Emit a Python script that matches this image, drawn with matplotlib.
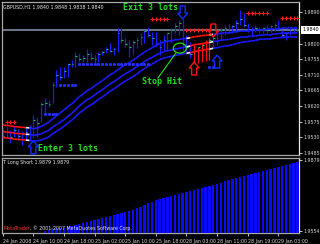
import matplotlib
matplotlib.use("Agg")
import matplotlib.pyplot as plt
from matplotlib.patches import Polygon, Ellipse
from matplotlib.lines import Line2D
from matplotlib.collections import LineCollection
from matplotlib.transforms import IdentityTransform, blended_transform_factory
import numpy as np

# ---------------- data ----------------
highs = [1.9557, 1.9560, 1.9551, 1.9563, 1.9554, 1.9548, 1.9557, 1.9566, 1.9595, 1.9589,
         1.9632, 1.9644, 1.9638, 1.9690, 1.9724, 1.9733, 1.9733, 1.9745, 1.9753, 1.9776,
         1.9774, 1.9768, 1.9785, 1.9776, 1.9768, 1.9776, 1.9779, 1.9791, 1.9802, 1.9791,
         1.9846, 1.9846, 1.9817, 1.9811, 1.9811, 1.9820, 1.9831, 1.9840, 1.9848, 1.9834,
         1.9834, 1.9811, 1.9825, 1.9831, 1.9846, 1.9860, 1.9869, 1.9871, 1.9825, 1.9805,
         1.9797, 1.9791, 1.9802, 1.9811, 1.9817, 1.9823, 1.9840, 1.9846, 1.9854, 1.9857,
         1.9854, 1.9869, 1.9898, 1.9889, 1.9860, 1.9848, 1.9854, 1.9848, 1.9848, 1.9854,
         1.9854, 1.9860, 1.9869, 1.9840, 1.9834, 1.9846, 1.9848, 1.9846]
lows = [1.9523, 1.9528, 1.9514, 1.9531, 1.9523, 1.9508, 1.9525, 1.9520, 1.9528, 1.9531,
        1.9574, 1.9600, 1.9618, 1.9629, 1.9675, 1.9696, 1.9701, 1.9704, 1.9733, 1.9733,
        1.9748, 1.9748, 1.9748, 1.9753, 1.9745, 1.9748, 1.9768, 1.9774, 1.9776, 1.9768,
        1.9776, 1.9802, 1.9791, 1.9762, 1.9768, 1.9788, 1.9797, 1.9802, 1.9820, 1.9797,
        1.9791, 1.9768, 1.9782, 1.9782, 1.9802, 1.9831, 1.9825, 1.9782, 1.9776, 1.9759,
        1.9748, 1.9745, 1.9748, 1.9750, 1.9753, 1.9788, 1.9797, 1.9811, 1.9825, 1.9831,
        1.9831, 1.9834, 1.9854, 1.9848, 1.9834, 1.9820, 1.9834, 1.9831, 1.9831, 1.9831,
        1.9834, 1.9837, 1.9840, 1.9820, 1.9811, 1.9825, 1.9834, 1.9834]
closes = [1.9535, 1.9545, 1.9530, 1.9550, 1.9535, 1.9540, 1.9545, 1.9560, 1.9580, 1.9570,
          1.9625, 1.9630, 1.9625, 1.9680, 1.9710, 1.9705, 1.9720, 1.9740, 1.9740, 1.9765,
          1.9755, 1.9760, 1.9770, 1.9760, 1.9755, 1.9770, 1.9775, 1.9785, 1.9780, 1.9785,
          1.9830, 1.9810, 1.9800, 1.9790, 1.9805, 1.9810, 1.9820, 1.9835, 1.9825, 1.9815,
          1.9800, 1.9790, 1.9810, 1.9830, 1.9840, 1.9850, 1.9860, 1.9790, 1.9790, 1.9770,
          1.9780, 1.9790, 1.9795, 1.9805, 1.9810, 1.9815, 1.9830, 1.9840, 1.9845, 1.9840,
          1.9850, 1.9860, 1.9870, 1.9855, 1.9840, 1.9840, 1.9845, 1.9840, 1.9845, 1.9840,
          1.9850, 1.9855, 1.9845, 1.9825, 1.9830, 1.9840, 1.9842, 1.9840]
red_bars = [50, 51, 52, 53, 54]

band_upper = [1.9566, 1.9564, 1.9563, 1.9561, 1.9560, 1.9559, 1.9558, 1.9557, 1.9555, 1.9557,
              1.9561, 1.9567, 1.9573, 1.9583, 1.9592, 1.9600, 1.9609, 1.9618, 1.9626, 1.9636,
              1.9647, 1.9655, 1.9664, 1.9670, 1.9678, 1.9686, 1.9693, 1.9701, 1.9710, 1.9716,
              1.9724, 1.9732, 1.9739, 1.9745, 1.9752, 1.9759, 1.9768, 1.9775, 1.9782, 1.9788,
              1.9795, 1.9801, 1.9804, 1.9807, 1.9808, 1.9811, 1.9812, 1.9814, 1.9815, 1.9817,
              1.9820, 1.9821, 1.9823, 1.9824, 1.9825, 1.9827, 1.9828, 1.9830, 1.9831, 1.9831,
              1.9833, 1.9834, 1.9836, 1.9837, 1.9837, 1.9838, 1.9838, 1.9840, 1.9840, 1.9841,
              1.9841, 1.9843, 1.9843, 1.9844, 1.9844, 1.9846, 1.9846, 1.9846]
band_middle = [1.9547, 1.9545, 1.9544, 1.9542, 1.9541, 1.9540, 1.9539, 1.9538, 1.9536, 1.9537,
               1.9540, 1.9545, 1.9550, 1.9559, 1.9566, 1.9573, 1.9581, 1.9590, 1.9599, 1.9609,
               1.9621, 1.9629, 1.9638, 1.9644, 1.9652, 1.9660, 1.9667, 1.9675, 1.9684, 1.9690,
               1.9698, 1.9706, 1.9713, 1.9719, 1.9726, 1.9733, 1.9741, 1.9748, 1.9755, 1.9760,
               1.9767, 1.9772, 1.9776, 1.9780, 1.9781, 1.9785, 1.9786, 1.9789, 1.9791, 1.9793,
               1.9797, 1.9798, 1.9800, 1.9802, 1.9803, 1.9806, 1.9807, 1.9810, 1.9811, 1.9812,
               1.9814, 1.9816, 1.9818, 1.9820, 1.9820, 1.9822, 1.9822, 1.9824, 1.9825, 1.9826,
               1.9826, 1.9828, 1.9829, 1.9830, 1.9830, 1.9832, 1.9832, 1.9832]
band_lower = [1.9530, 1.9528, 1.9527, 1.9525, 1.9524, 1.9523, 1.9522, 1.9521, 1.9519, 1.9520,
              1.9522, 1.9526, 1.9531, 1.9540, 1.9547, 1.9554, 1.9562, 1.9571, 1.9579, 1.9589,
              1.9600, 1.9608, 1.9617, 1.9623, 1.9631, 1.9639, 1.9646, 1.9654, 1.9663, 1.9669,
              1.9677, 1.9685, 1.9692, 1.9698, 1.9705, 1.9712, 1.9721, 1.9728, 1.9735, 1.9741,
              1.9748, 1.9754, 1.9758, 1.9761, 1.9763, 1.9766, 1.9768, 1.9770, 1.9772, 1.9774,
              1.9777, 1.9779, 1.9781, 1.9783, 1.9784, 1.9787, 1.9788, 1.9791, 1.9793, 1.9794,
              1.9797, 1.9800, 1.9803, 1.9805, 1.9806, 1.9808, 1.9809, 1.9812, 1.9812, 1.9814,
              1.9814, 1.9816, 1.9817, 1.9818, 1.9818, 1.9820, 1.9820, 1.9820]
# band state per bar: S = short (red), L = long (blue), X = switch (white)
band_state = list("SSSSSSSX" + "L" * 41 + "X" + "SSSSS" + "X" + "L" * 22)

long_stop_idx = [11, 12, 13, 14, 15, 16, 17, 18, 19, 20, 21, 22, 23, 24, 25, 26, 27, 28, 29,
                 30, 31, 32, 33, 34, 35, 36, 37, 38, 54, 55]
long_stop = [1.9597, 1.9597, 1.9597, 1.9597, 1.9681, 1.9681, 1.9681, 1.9681, 1.9681, 1.9741,
             1.9741, 1.9741, 1.9741, 1.9741, 1.9741, 1.9741, 1.9741, 1.9741, 1.9741, 1.9741,
             1.9741, 1.9741, 1.9741, 1.9741, 1.9741, 1.9741, 1.9741, 1.9741, 1.9733, 1.9733]
short_stop_idx = [1, 2, 3, 39, 40, 41, 42, 43, 48, 49, 50, 51, 52, 53, 54,
                  64, 65, 66, 67, 68, 69, 73, 74, 75, 76, 77]
short_stop = [1.9574, 1.9574, 1.9574, 1.9871, 1.9871, 1.9871, 1.9871, 1.9871,
              1.9840, 1.9840, 1.9840, 1.9840, 1.9840, 1.9840, 1.9840,
              1.9888, 1.9888, 1.9888, 1.9888, 1.9888, 1.9888, 1.9874, 1.9874, 1.9874, 1.9874, 1.9874]

trade_idx = [8, 47, 50, 55, 56]
trade_price = [1.9520, 1.9871, 1.9747, 1.9819, 1.9767]
trade_dir = ["up", "down", "up", "down", "up"]
trade_color = ["#1030ff", "#1030ff", "#ff1010", "#ff1010", "#1030ff"]
stop_hit_idx = 46
stop_hit_price = 1.9787
current_price = 1.9840

hist_idx = list(range(11, 78))
hist_vals = [1.9554, 1.9559, 1.9563, 1.9565, 1.9566, 1.9568, 1.9572, 1.9577, 1.9581, 1.9586,
             1.9591, 1.9595, 1.9600, 1.9604, 1.9609, 1.9614, 1.9618, 1.9623, 1.9627, 1.9632,
             1.9636, 1.9641, 1.9646, 1.9650, 1.9657, 1.9664, 1.9673, 1.9680, 1.9687, 1.9696,
             1.9701, 1.9705, 1.9710, 1.9714, 1.9719, 1.9723, 1.9728, 1.9733, 1.9737, 1.9742,
             1.9746, 1.9751, 1.9756, 1.9760, 1.9765, 1.9769, 1.9774, 1.9781, 1.9785, 1.9792,
             1.9797, 1.9801, 1.9806, 1.9810, 1.9815, 1.9820, 1.9824, 1.9829, 1.9833, 1.9838,
             1.9842, 1.9847, 1.9852, 1.9856, 1.9861, 1.9865, 1.9870]

price_ticks = [1.9485, 1.9530, 1.9575, 1.9620, 1.9665, 1.9710, 1.9755, 1.9800, 1.9890]
hist_ticks = [1.9554, 1.9879]
time_idx = [0, 8, 16, 24, 32, 40, 48, 56, 64, 72]
time_labels = ["24 Jan 2008", "24 Jan 10:00", "24 Jan 18:00", "25 Jan 02:00", "25 Jan 10:00",
               "25 Jan 18:00", "28 Jan 03:00", "28 Jan 11:00", "28 Jan 19:00", "29 Jan 03:00"]

# ---------------- figure ----------------
W, H = 320, 244
fig = plt.figure(figsize=(W / 100, H / 100), dpi=100, facecolor="black")


def frac(x0, y0, x1, y1):
    return [x0 / W, 1 - y1 / H, (x1 - x0) / W, (y1 - y0) / H]


small = 3.4
ax = fig.add_axes(frac(2, 2, 299, 155))
ax2 = fig.add_axes(frac(2, 158, 299, 233))
n = len(highs)
idx = np.arange(n)
for a in (ax, ax2):
    a.set_facecolor("black")
    a.set_xlim(-0.2, 77.4)
    for s in ("left", "top", "bottom"):
        a.spines[s].set_color("#a8a8a8")
        a.spines[s].set_linewidth(0.9)
    a.spines["right"].set_color("#e8e8e8")
    a.spines["right"].set_linewidth(0.9)
    a.yaxis.tick_right()
    a.tick_params(axis="y", length=2.5, width=0.6, color="#e0e0e0", labelsize=small,
                  labelcolor="#d8d8d8", pad=1.0)

ax.set_ylim(1.9479, 1.9920)
ax2.set_ylim(1.9543, 1.9888)

# bars
bar_colors = ["#ff1010" if i in red_bars else "#1a1aff" for i in idx]
ax.vlines(idx, lows, highs, colors=bar_colors, lw=0.9, zorder=3)
ax.hlines(closes, idx, idx + 0.45, colors="#20c060", lw=0.8, zorder=3)

# current price line
ax.axhline(current_price, color="#6a7888", lw=1.4, zorder=1)

# bands
state_col = {"S": "#ff1010", "L": "#1a1aff", "X": "#f0f0f0"}
for band in (band_upper, band_middle, band_lower):
    segs = [[(i - 1, band[i - 1]), (i, band[i])] for i in range(1, n)]
    cols = [state_col[band_state[i]] for i in range(1, n)]
    ax.add_collection(LineCollection(segs, colors=cols, linewidths=1.2, zorder=4))

# stops
ax.plot(long_stop_idx, long_stop, ls="none", marker="s", ms=1.1, color="#2030ff", zorder=4)
ax.plot(short_stop_idx, short_stop, ls="none", marker="+", ms=2.4, mew=0.8, color="#ff1818", zorder=4)

# ticks main
ax.set_yticks(price_ticks)
ax.set_yticklabels([f"{v:.4f}" for v in price_ticks])
ax.set_xticks([])

# price box
bt = blended_transform_factory(ax.transAxes, ax.transData)
ax.text(1.012, current_price, f"{current_price:.4f}", transform=bt, fontsize=small, color="black",
        va="center", ha="left", clip_on=False,
        bbox=dict(boxstyle="square,pad=0.3", fc="white", ec="none"))

# header texts
ax.text(0.004, 0.985, "GBPUSD,H1 1.9840 1.9848 1.9838 1.9840", transform=ax.transAxes,
        fontsize=small, color="#e8e8e8", va="top", ha="left")
green = "#22dd22"
mono = dict(family="DejaVu Sans Mono", weight="bold", fontsize=6.0, color=green)
ax.text(0.407, 0.967, "Exit 3 lots", transform=ax.transAxes, va="center", ha="left", **mono)
ax.text(0.121, 0.040, "Enter 3 lots", transform=ax.transAxes, va="center", ha="left", **mono)
ax.text(0.472, 0.483, "Stop Hit", transform=ax.transAxes, va="center", ha="left", **mono)

# hollow arrows (pixel sized)
for i, p, d, c in zip(trade_idx, trade_price, trade_dir, trade_color):
    x, y = ax.transData.transform((i, p))
    hw, sw, hh, L = 5, 2.5, 6, 13
    s = 1 if d == "down" else -1
    base = [(0, 0), (-hw, hh), (-sw, hh), (-sw, L), (sw, L), (sw, hh), (hw, hh)]
    verts = [(x + vx, y + s * vy) for vx, vy in base]
    ax.add_patch(Polygon(verts, closed=True, fill=False, edgecolor=c, lw=1.0,
                         transform=IdentityTransform(), clip_on=False, zorder=6))

# stop-hit circle and leader line
cx, cy = ax.transData.transform((stop_hit_idx, stop_hit_price))
ax.add_patch(Ellipse((cx + 1, cy), 13, 10, fill=False, edgecolor=green, lw=0.9,
                     transform=IdentityTransform(), zorder=6))
fig.add_artist(Line2D([cx - 3, cx - 21], [cy - 5, cy - 30], color=green, lw=0.8,
                      transform=IdentityTransform()))

# lower panel
ax2.bar(hist_idx, np.array(hist_vals) - 1.9543, bottom=1.9543, width=0.62, color="#0a0aff",
        zorder=3)
ax2.set_yticks(hist_ticks)
ax2.set_yticklabels([f"{v:.4f}" for v in hist_ticks])
ax2.set_xticks(time_idx)
ax2.set_xticklabels(time_labels, ha="left")
ax2.tick_params(axis="x", length=2.5, width=0.6, color="#e0e0e0", labelsize=small,
                labelcolor="#d8d8d8", pad=1.5)
ax2.text(0.004, 0.97, "T Long Short 1.9879 1.9879", transform=ax2.transAxes, fontsize=small,
         color="#e8e8e8", va="top", ha="left")
t1 = ax2.text(0.004, 0.03, "MetaTrader", transform=ax2.transAxes, fontsize=small,
              color="#ff3030", va="bottom", ha="left", zorder=5)
ax2.annotate(", \u00a9 2001-2007 MetaQuotes Software Corp.", xy=(1, 0), xycoords=t1,
             fontsize=small, color="#e8e8e8", va="bottom", ha="left", zorder=5)

fig.savefig("out.png", dpi=100, facecolor="black")
